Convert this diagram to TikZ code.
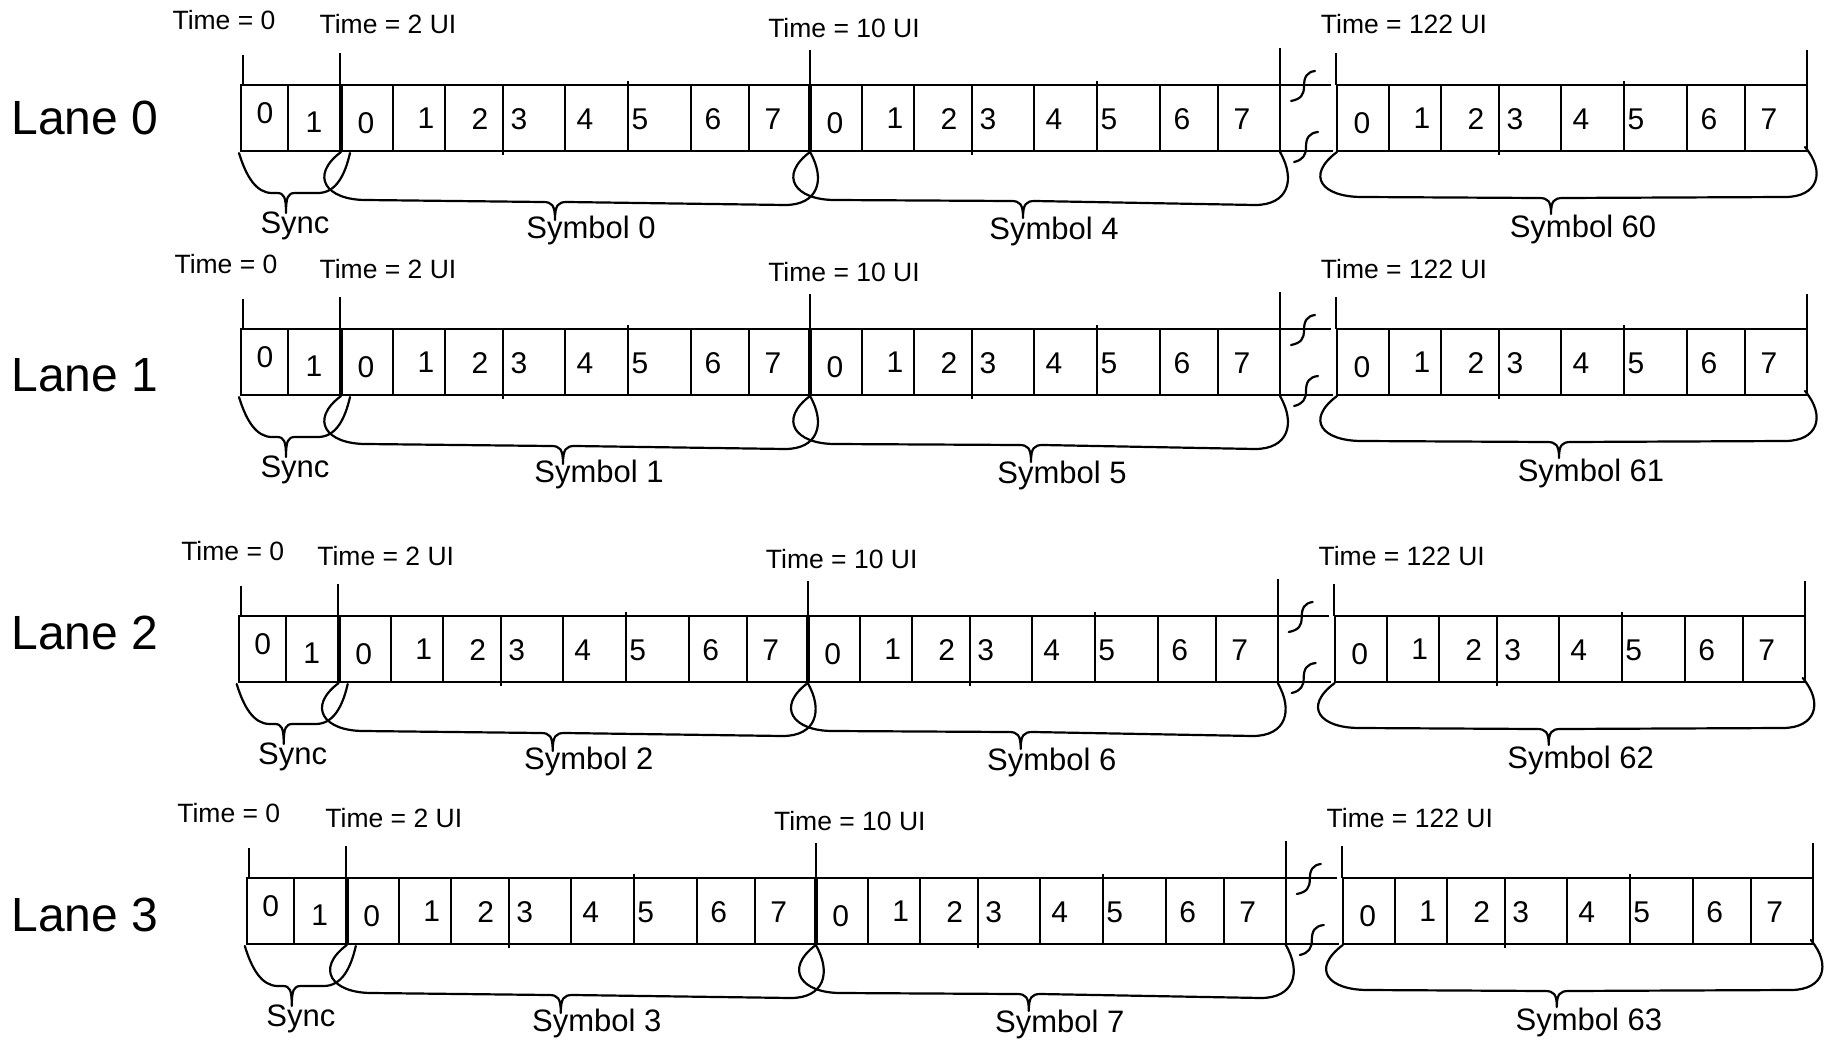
\documentclass[tikz,border=0pt]{standalone}
\usepackage{fontspec}
\setmainfont{Liberation Sans}
\tikzset{
  ln/.style={line width=2pt},
  thk/.style={line width=3.6pt},
  brc/.style={line width=2.2pt, line join=round, line cap=round},
  dig/.style={anchor=base, inner sep=0pt, font=\fontsize{30}{36}\selectfont},
  tim/.style={anchor=base, inner sep=0pt, font=\fontsize{26.5}{32}\selectfont},
  lab/.style={anchor=base, inner sep=0pt, font=\fontsize{31}{37}\selectfont},
  lanelab/.style={anchor=base, inner sep=0pt, font=\fontsize{48}{56}\selectfont},
}
% #1 dx, #2 dy, #3 lane, #4 #5 #6 symbol numbers, #7 label dx, #8 time0 dx, #9 lane label baseline
\newcommand{\drawlane}[9]{%
\begin{scope}[shift={(#1,#2)}]
  % lane label
  \node[lanelab] (lane#3) at (85-#1,#9) {Lane #3};
  % time labels
  \node[tim] (tz#3) at (224+#8,29.5) {Time = 0};
  \node[tim] (tb#3) at (388,34) {Time = 2 UI};
  \node[tim] (tc#3) at (844,37.5) {Time = 10 UI};
  \node[tim] (td#3) at (1404,34) {Time = 122 UI};
  % ticks
  \draw[ln] (243,55) -- (243,85);
  \draw[ln] (340,53) -- (340,85);
  \draw[ln] (810,50) -- (810,85);
  \draw[ln] (1280,48) -- (1280,85);
  \draw[ln] (1336,53) -- (1336,85);
  \draw[ln] (1807,50) -- (1807,85);
  % sync box
  \draw[ln] (241,85) rectangle (340,151);
  \draw[ln] (288,85) -- (288,151);
  \node[dig] (sa#3) at (265,123) {0};
  \node[dig] (sb#3) at (314,132) {1};
  % main strip
  \draw[ln] (341,85) -- (1331,85);
  \draw[ln] (341,151) -- (1333,151);
  \draw[ln] (1337,85) rectangle (1807,151);
  \draw[thk] (341,85) -- (341,151);
  \draw[thk] (810,85) -- (810,151);
  \draw[ln] (1280,85) -- (1280,151);
  \foreach \s/\n in {341/a,810/b,1337/c}{
    \foreach \o in {52,104,224,350,408}{
      \draw[ln] (\s+\o,85) -- (\s+\o,151);
    }
    \draw[ln] (\s+162,85) -- (\s+162,155);
    \draw[ln] (\s+287,81) -- (\s+287,151);
    \foreach \d/\o/\yy in {0/25/133,1/85/128.5,2/139/129,3/178/129,4/244/129,5/299/129,6/372/129,7/432/129}{
      \node[dig] (c\n\d-#3) at (\s+\o,\yy) {\d};
    }
  }
  % break marks
  \draw[brc] (1291,101) .. controls (1301,99) and (1304,95) .. (1304,86)
             .. controls (1304,77) and (1307,72) .. (1315,71);
  \draw[brc] (1294,162) .. controls (1303,160) and (1306,155) .. (1306,147)
             .. controls (1306,138) and (1309,133) .. (1318,132);
  % braces
  \draw[brc] (239,153) .. controls (246,176) and (256,193) .. (272,193) -- (277,193)
     .. controls (284,193) and (286,197) .. (286,213)
     .. controls (286,197) and (288,193) .. (295,193) -- (318,193)
     .. controls (336,193) and (345,175) .. (350,153);
  \draw[brc] (341,152) .. controls (309,176) and (326,200) .. (366,200)
     -- (543+#7,202) .. controls (552+#7,202) and (555+#7,205) .. (555+#7,220)
     .. controls (555+#7,205) and (558+#7,202) .. (567+#7,202)
     -- (785,205) .. controls (818,205) and (826,180) .. (810,152);
  \draw[brc] (810,152) .. controls (778,176) and (795,200) .. (835,200)
     -- (1011+#7,201) .. controls (1020+#7,201) and (1023+#7,204) .. (1023+#7,218)
     .. controls (1023+#7,204) and (1026+#7,201) .. (1035+#7,201)
     -- (1255,205) .. controls (1288,205) and (1296,180) .. (1280,152);
  \draw[brc] (1337,152) .. controls (1305,176) and (1322,197) .. (1362,197)
     -- (1539+#7,198) .. controls (1548+#7,198) and (1551+#7,201) .. (1551+#7,214)
     .. controls (1551+#7,201) and (1554+#7,198) .. (1563+#7,198)
     -- (1785,197) .. controls (1818,197) and (1826,172) .. (1805,147);
  % brace labels
  \node[lab] (sy#3) at (295,233) {Sync};
  \node[lab] (ya#3) at (591+#7,238) {Symbol #4};
  \node[lab] (yb#3) at (1054+#7,239) {Symbol #5};
  \node[lab] (yc#3) at (1583+#7,237) {Symbol #6};
\end{scope}}
\begin{document}
\begin{tikzpicture}[x=1pt,y=-1pt]
  \useasboundingbox (0,0) rectangle (1831,1041);
  \drawlane{0}{0}{0}{0}{4}{60}{0}{0}{134}
  \drawlane{0}{244}{1}{1}{5}{61}{8}{2}{147}
  \drawlane{-2.3}{531}{2}{2}{6}{62}{0}{11}{118}
  \drawlane{5.8}{793}{3}{3}{7}{63}{0}{-1}{138}
\end{tikzpicture}
\end{document}
